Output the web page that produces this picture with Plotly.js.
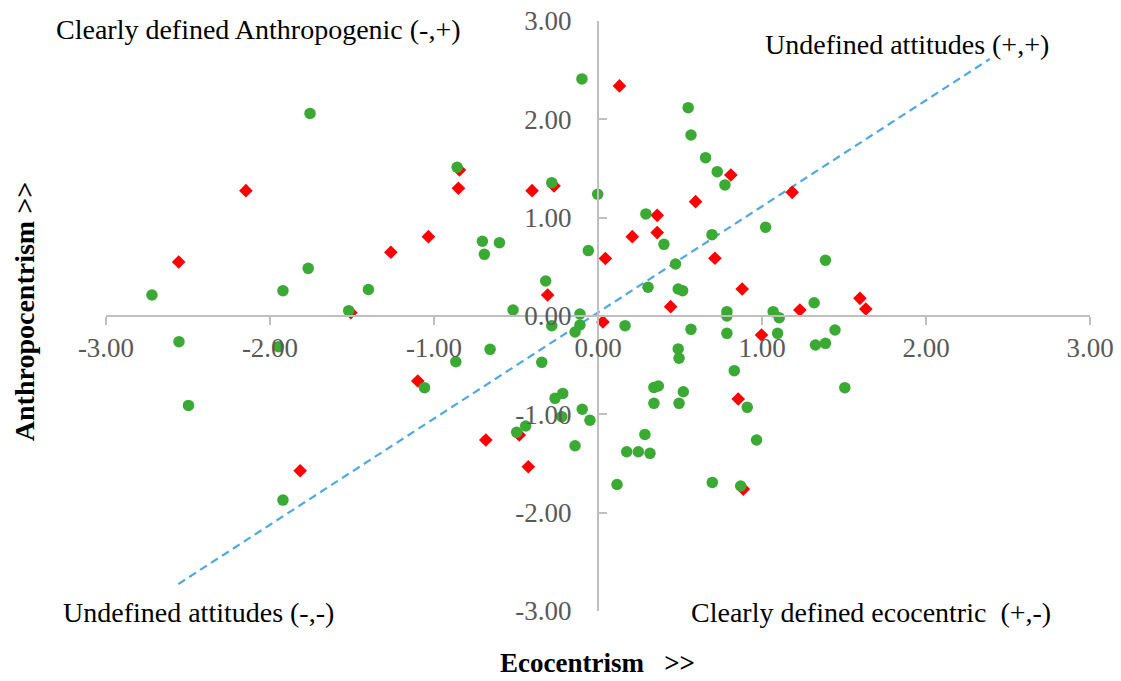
<!DOCTYPE html>
<html>
<head>
<meta charset="utf-8">
<script src="https://cdn.plot.ly/plotly-3.0.1.min.js"></script>
<style>html,body{margin:0;padding:0;background:#fff;}#chart{width:1121px;height:681px;}</style>
</head>
<body>
<div id="chart"></div>
<script>
// Red diamonds
const redX = [0.131, -2.147, -2.557, -1.507, -1.263, -1.034, -0.845, -0.851, -0.402, -0.268, 0.045, -0.307, 0.030, -1.099, -0.480, -0.684, -0.425, -1.816, 0.810, 1.184, 0.595, 0.361, 0.361, 0.209, 0.713, 0.879, 0.443, 1.231, 0.997, 1.597, 1.633, 0.855, 0.886];
const redY = [2.340, 1.275, 0.549, 0.034, 0.648, 0.807, 1.485, 1.299, 1.275, 1.322, 0.585, 0.214, -0.060, -0.661, -1.210, -1.261, -1.533, -1.574, 1.434, 1.258, 1.163, 1.024, 0.848, 0.807, 0.587, 0.275, 0.095, 0.061, -0.193, 0.180, 0.071, -0.844, -1.760];

// Green circles
const greenX = [-1.756, -2.720, -1.767, -1.921, -1.400, -1.520, -2.555, -1.948, -2.497, -1.921,
  -0.098, -0.859, -0.282, -0.002, -0.705, -0.601, -0.693, -0.059, -0.319, -0.518,
  -0.110, -0.282, -0.110, -0.140, -0.658, -0.867, -0.343, -1.058, -0.262, -0.215,
  -0.221, -0.096, -0.049, -0.441, -0.496, -0.140, 0.116, 0.550, 0.567, 0.656,
  0.727, 0.774, 0.292, 1.022, 0.695, 0.402, 1.387, 0.473, 0.305, 0.489,
  0.516, 1.318, 0.786, 0.786, 1.068, 1.105, 0.165, 0.567, 0.786, 1.095,
  1.445, 1.326, 1.387, 0.489, 0.494, 0.831, 0.341, 0.368, 0.520, 0.341,
  0.494, 0.910, 1.505, 0.286, 0.967, 0.175, 0.246, 0.317, 0.697, 0.870];
const greenY = [2.060, 0.214, 0.485, 0.258, 0.270, 0.054, -0.261, -0.312, -0.909, -1.872,
  2.411, 1.513, 1.356, 1.238, 0.760, 0.746, 0.627, 0.665, 0.356, 0.061,
  0.020, -0.099, -0.092, -0.163, -0.339, -0.465, -0.471, -0.729, -0.837, -0.787,
  -1.024, -0.948, -1.060, -1.119, -1.183, -1.319, -1.713, 2.119, 1.841, 1.610,
  1.468, 1.333, 1.038, 0.902, 0.827, 0.729, 0.567, 0.529, 0.292, 0.275,
  0.258, 0.135, 0.044, 0.000, 0.044, -0.017, -0.098, -0.136, -0.176, -0.176,
  -0.142, -0.295, -0.278, -0.335, -0.430, -0.556, -0.726, -0.712, -0.770, -0.888,
  -0.888, -0.929, -0.729, -1.204, -1.261, -1.380, -1.380, -1.397, -1.692, -1.729];

// Dashed reference line
const lineX = [-2.559, 2.389];
const lineY = [-2.726, 2.614];

// Ticks
const tickVals = [-3, -2, -1, 0, 1, 2, 3];
const tickText = ["-3.00", "-2.00", "-1.00", "0.00", "1.00", "2.00", "3.00"];

// Texts
const xTitle = "Ecocentrism\u00a0\u00a0\u00a0>>";
const yTitle = "Anthropocentrism >>";
const quadTL = "Clearly defined Anthropogenic (-,+)";
const quadTR = "Undefined attitudes (+,+)";
const quadBL = "Undefined attitudes (-,-)";
const quadBR = "Clearly defined ecocentric\u00a0\u00a0(+,-)";

const serif = "Liberation Serif, Times New Roman, serif";

const traces = [
  {x: lineX, y: lineY, type: 'scatter', mode: 'lines',
   line: {color: '#4fa8e0', width: 2.2, dash: '8px,5px'}, hoverinfo: 'skip', showlegend: false},
  {x: redX, y: redY, type: 'scatter', mode: 'markers',
   marker: {symbol: 'diamond', size: 10.5, color: '#ff0000'}, showlegend: false, cliponaxis: false},
  {x: greenX, y: greenY, type: 'scatter', mode: 'markers',
   marker: {symbol: 'circle', size: 11.5, color: '#3aaa35'}, showlegend: false, cliponaxis: false}
];

const axisCommon = {
  range: [-3, 3], anchor: 'free', position: 0.5,
  showgrid: false, zeroline: false, showline: true,
  linecolor: '#bfbfbf', linewidth: 2,
  tickcolor: '#bfbfbf', tickwidth: 2, ticklen: 8,
  tickvals: tickVals, ticktext: tickText,
  tickfont: {family: serif, size: 27, color: '#595959'},
  fixedrange: true
};

const layout = {
  width: 1121, height: 681,
  margin: {l: 106, r: 31, t: 21, b: 70},
  paper_bgcolor: '#ffffff', plot_bgcolor: '#ffffff',
  showlegend: false,
  font: {family: serif, color: '#000000'},
  xaxis: Object.assign({}, axisCommon, {ticks: 'outside', side: 'bottom', ticklabelstandoff: 0}),
  yaxis: Object.assign({}, axisCommon, {ticks: 'inside', side: 'left', ticklabelstandoff: 20}),
  annotations: [
    {xref: 'paper', yref: 'paper', x: 0.4995, y: -0.088, text: xTitle, showarrow: false,
     xanchor: 'center', yanchor: 'middle', font: {family: serif, size: 27, color: '#000'}},
    {xref: 'paper', yref: 'paper', x: -0.082, y: 0.507, text: yTitle, showarrow: false, textangle: -90,
     xanchor: 'center', yanchor: 'middle', font: {family: serif, size: 28, color: '#000'}},
    {xref: 'paper', yref: 'paper', x: -0.053, y: 0.985, text: quadTL, showarrow: false,
     xanchor: 'left', yanchor: 'middle', font: {family: serif, size: 28, color: '#000'}},
    {xref: 'paper', yref: 'paper', x: 0.668, y: 0.961, text: quadTR, showarrow: false,
     xanchor: 'left', yanchor: 'middle', font: {family: serif, size: 28, color: '#000'}},
    {xref: 'paper', yref: 'paper', x: -0.046, y: -0.002, text: quadBL, showarrow: false,
     xanchor: 'left', yanchor: 'middle', font: {family: serif, size: 28, color: '#000'}},
    {xref: 'paper', yref: 'paper', x: 0.592, y: -0.002, text: quadBR, showarrow: false,
     xanchor: 'left', yanchor: 'middle', font: {family: serif, size: 28, color: '#000'}}
  ]
};

layout.annotations.forEach(a => { a.font.weight = 'normal'; });
layout.annotations[0].font.weight = 'bold';
layout.annotations[1].font.weight = 'bold';

Plotly.newPlot('chart', traces, layout, {displayModeBar: false, staticPlot: true});
</script>
</body>
</html>
